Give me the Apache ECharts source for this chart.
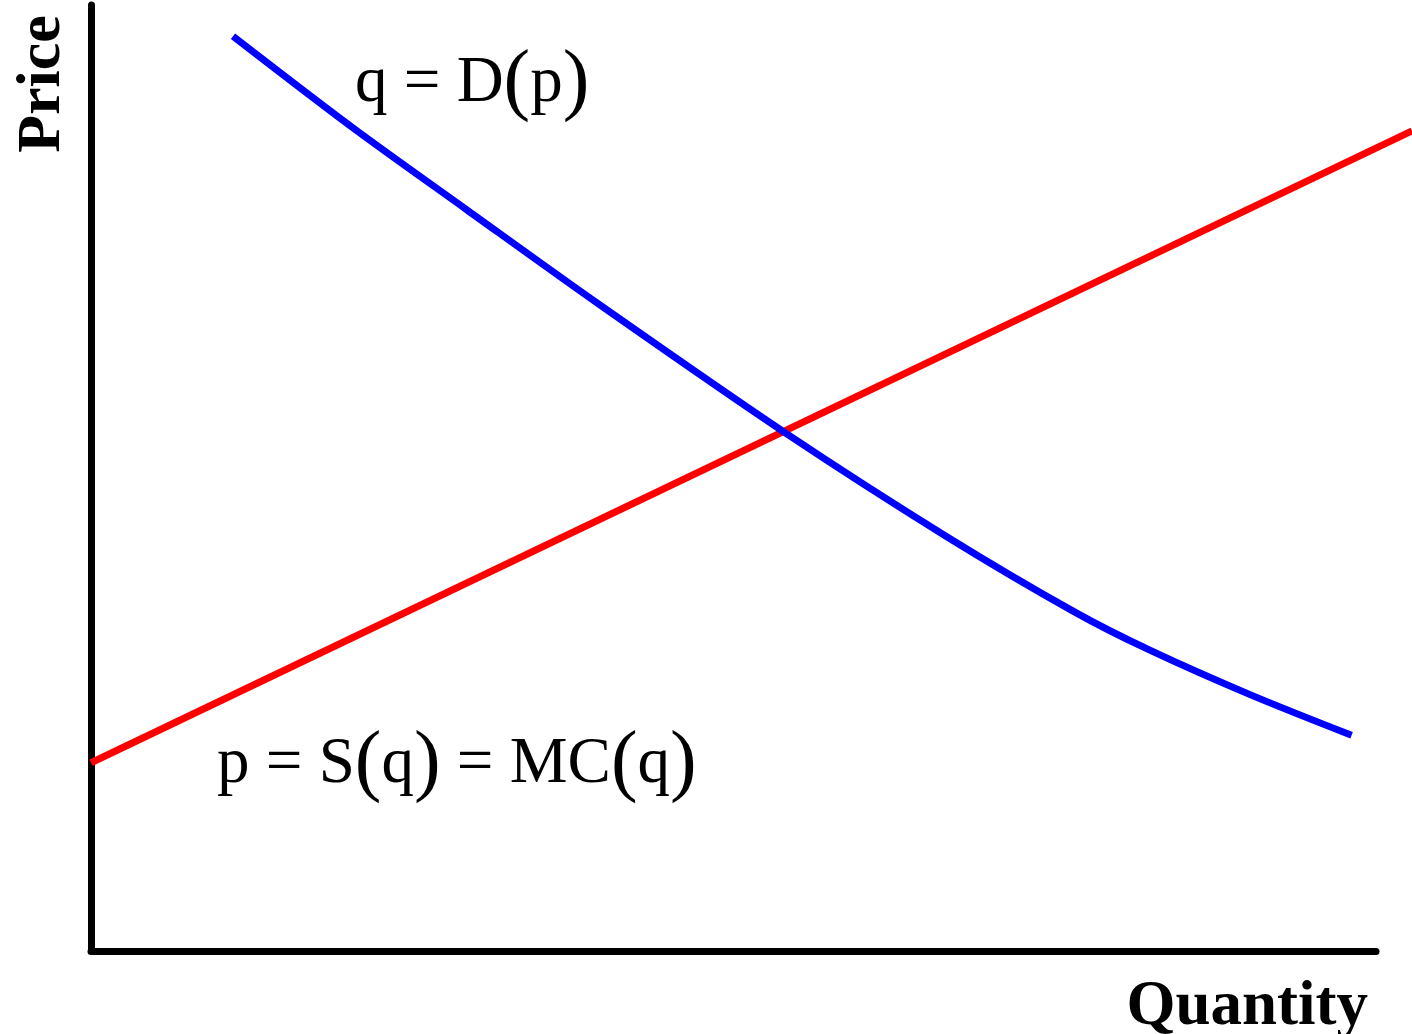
<!DOCTYPE html>
<html>
<head>
<meta charset="utf-8">
<title>Supply and demand</title>
<script src="https://cdn.jsdelivr.net/npm/echarts@6/dist/echarts.min.js"></script>
<style>
  html, body { margin: 0; padding: 0; background: #fff; }
  #chart { width: 1412px; height: 1034px; }
</style>
</head>
<body>
<div id="chart"></div>
<script>
// demand curve q = D(p) [quantity, price]
var demandQ = [11.05, 20.4, 29.3, 39.6, 54.0, 66.6, 76.6, 82.4, 90.2, 98.1];
var demandP = [96.7, 87.0, 78.3, 68.3, 54.8, 43.8, 35.8, 31.8, 27.1, 22.8];
// supply curve p = S(q) = MC(q), a straight line that runs past the axis end
var supplyQ = [0, 102.8];
var supplyP = [19.9, 86.7];

var serif = "'Liberation Serif', 'Times New Roman', serif";

var myChart = echarts.init(document.getElementById("chart"));

function pairs(xs, ys) {
  return xs.map(function (x, i) {
    return [x, ys[i]];
  });
}

// rich text so the parentheses come out taller than the letters
var eqRich = {
  t: { fontFamily: serif, fontSize: 65, color: "#000" },
  b: { fontFamily: serif, fontSize: 80, color: "#000" },
};

var hiddenAxis = {
  show: false,
};

var option = {
  backgroundColor: "#fff",
  animation: false,
  // grid 0 holds the visible axes, grid 1 is the same frame stretched to the
  // right edge so the supply line can run past the end of the quantity axis
  grid: [
    { left: 91, right: 36, top: 5, bottom: 83 },
    { left: 91, right: 0, top: 5, bottom: 83 },
  ],
  xAxis: [
    {
      type: "value",
      gridIndex: 0,
      min: 0,
      max: 100,
      axisLine: { show: true, lineStyle: { color: "#000", width: 7 } },
      axisTick: { show: false },
      axisLabel: { show: false },
      splitLine: { show: false },
    },
    Object.assign({ type: "value", gridIndex: 1, min: 0, max: 102.8 }, hiddenAxis),
  ],
  yAxis: [
    {
      type: "value",
      gridIndex: 0,
      min: 0,
      max: 100,
      axisLine: { show: true, lineStyle: { color: "#000", width: 7 } },
      axisTick: { show: false },
      axisLabel: { show: false },
      splitLine: { show: false },
    },
    Object.assign({ type: "value", gridIndex: 1, min: 0, max: 100 }, hiddenAxis),
  ],
  series: [
    {
      name: "Supply",
      type: "line",
      xAxisIndex: 1,
      yAxisIndex: 1,
      showSymbol: false,
      lineStyle: { color: "#ff0000", width: 7 },
      data: pairs(supplyQ, supplyP),
    },
    {
      name: "Demand",
      type: "line",
      xAxisIndex: 0,
      yAxisIndex: 0,
      smooth: 0.3,
      showSymbol: false,
      lineStyle: { color: "#0000ff", width: 7 },
      data: pairs(demandQ, demandP),
    },
  ],
  graphic: [
    {
      type: "text",
      x: 43,
      y: 84,
      rotation: Math.PI / 2,
      style: {
        text: "Price",
        font: "bold 62px " + serif,
        fill: "#000",
        align: "center",
        verticalAlign: "middle",
      },
    },
    {
      type: "text",
      x: 1368,
      y: 1008,
      style: {
        text: "Quantity",
        font: "bold 63px " + serif,
        fill: "#000",
        align: "right",
        verticalAlign: "middle",
      },
    },
    {
      type: "text",
      x: 355,
      y: 84,
      style: {
        text: "{t|q = D}{b|(}{t|p}{b|)}",
        rich: eqRich,
        align: "left",
        verticalAlign: "middle",
      },
    },
    {
      type: "text",
      x: 217,
      y: 765,
      style: {
        text: "{t|p = S}{b|(}{t|q}{b|)}{t| = MC}{b|(}{t|q}{b|)}",
        rich: eqRich,
        align: "left",
        verticalAlign: "middle",
      },
    },
  ],
};

myChart.setOption(option);
window.addEventListener("resize", function () {
  myChart.resize();
});
</script>
</body>
</html>
